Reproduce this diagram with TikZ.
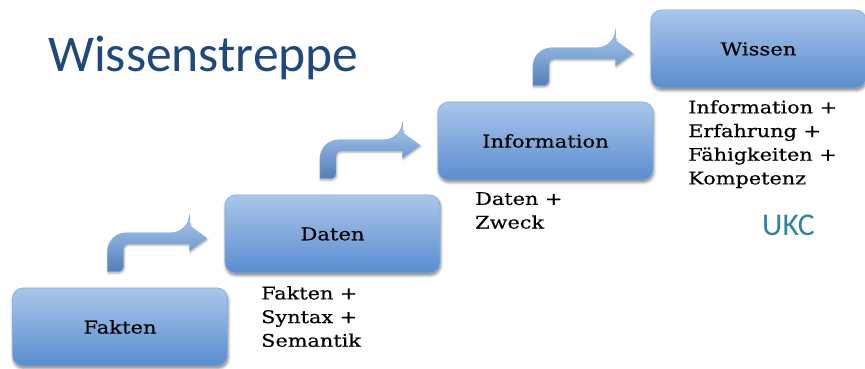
\documentclass[tikz,border=0pt]{standalone}
\usepackage{fontspec}
\newfontfamily\stepfont[FakeStretch=1.2,FakeBold=0.5]{DejaVu Serif}
\newfontfamily\titlefont{Carlito}
\usetikzlibrary{calc,shadows.blur}
\definecolor{boxtop}{HTML}{A9C6EA}
\definecolor{boxbot}{HTML}{5A8DCF}
\definecolor{titleblue}{HTML}{1F497D}
\definecolor{ukcteal}{HTML}{31849B}

% bent step arrow: #1 = foot of the shaft, #2 = tip
\newcommand\steparrow[2]{%
	\path[arrowfill]
	($(#1)+(-8,0)$) [rounded corners=16pt] |- ($(#2)+(-17,-5.5)$)
	[sharp corners] -- ($(#2)+(-17,-12.5)$) -- (#2) -- ($(#2)+(-17,12.5)$)
	-- ($(#2)+(-17,5.5)$) [rounded corners=4pt] -| ($(#1)+(8,0)$)
	[sharp corners] -- cycle;}

\begin{document}
\begin{tikzpicture}[x=0.03cm,y=-0.03cm,
	stepbox/.style={rectangle,rounded corners=9pt,
		minimum width=6.45cm,minimum height=2.34cm,
		top color=boxtop,bottom color=boxbot,
		draw=boxtop!60!boxbot,line width=0.6pt,
		blur shadow={shadow xshift=0.6pt,shadow yshift=-2pt,
			shadow blur radius=2.5pt,shadow opacity=50},
		font=\stepfont\fontsize{15}{18}\selectfont},
	note/.style={anchor=north west,inner sep=0pt,align=left,
		font=\stepfont\fontsize{14.8}{20.2}\selectfont},
	arrowfill/.style={top color=boxtop!80!boxbot,bottom color=boxbot!90!black,
		draw=boxtop!50!boxbot,line width=0.4pt,
		blur shadow={shadow xshift=0.6pt,shadow yshift=-1.2pt,
			shadow blur radius=1.8pt,shadow opacity=35}}]
	
	\useasboundingbox (0,0) rectangle (865,369);
	
	% ---- Titel ----
	\node[anchor=base west,inner sep=0pt,text=titleblue,
	font=\titlefont\fontsize{44}{50}\selectfont] (title) at (48,72) {Wissenstreppe};
	
	% ---- Stufen ----
	\node[stepbox] (fakten) at (120,327) {Fakten};
	\node[stepbox] (daten)  at (332.5,234) {Daten};
	\node[stepbox] (info)   at (545.5,141) {Information};
	\node[stepbox] (wissen) at (758.5,49)  {Wissen};
	
	% ---- Pfeile zwischen den Stufen ----
	\coordinate (a1s) at ([xshift=3.1cm,yshift=0.48cm]fakten.north west);
	\coordinate (a1t) at ([xshift=-0.54cm,yshift=-0.13cm]daten.west);
	\coordinate (a2s) at ([xshift=3.1cm,yshift=0.48cm]daten.north west);
	\coordinate (a2t) at ([xshift=-0.54cm,yshift=-0.13cm]info.west);
	\coordinate (a3s) at ([xshift=3.1cm,yshift=0.48cm]info.north west);
	\coordinate (a3t) at ([xshift=-0.54cm,yshift=-0.13cm]wissen.west);
	\steparrow{a1s}{a1t}
	\steparrow{a2s}{a2t}
	\steparrow{a3s}{a3t}
	
	% ---- Erklaerungen ----
	\node[note] (n1) at (261,286) {Fakten +\\Syntax +\\Semantik};
	\node[note] (n2) at (475,192) {Daten +\\Zweck};
	\node[note] (n3) at (688,100) {Information +\\Erfahrung +\\Fähigkeiten +\\Kompetenz};
	
	\node[anchor=base west,inner sep=0pt,text=ukcteal,
	font=\titlefont\fontsize{27}{30}\selectfont] (ukc) at (762,235) {UKC};
	
\end{tikzpicture}
\end{document}
